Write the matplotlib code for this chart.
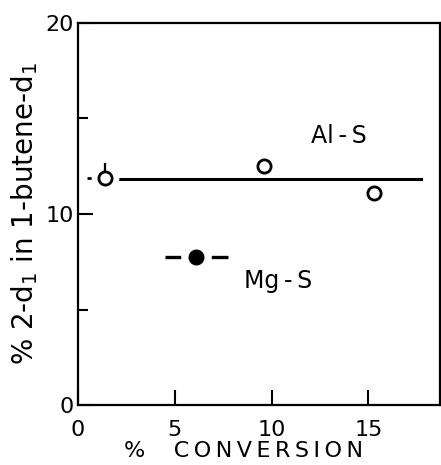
import matplotlib
matplotlib.use("Agg")
import matplotlib.pyplot as plt

# Data
al_x = [1.4, 9.6, 15.3]
al_y = [11.9, 12.5, 11.1]
al_fit_x = [2.1, 17.7]
al_fit_y = [11.85, 11.85]
al_err_x_lo = [0.95, 0, 0]
al_err_y_hi = [0.75, 0, 0]

mg_x = [6.07]
mg_y = [7.75]
mg_xerr = [[1.58], [1.67]]

xticks = [0, 5, 10, 15]
yticks = [0, 10, 20]
yminor = [5, 15]

plt.rcParams['font.family'] = ['DejaVu Sans']
fig = plt.figure(figsize=(4.41, 4.65), dpi=100)
ax = fig.add_axes([78/441, 60/465, 362/441, 382/465])

ax.set_xlim(0, 18.7)
ax.set_ylim(0, 20)

# fit line
ax.plot(al_fit_x, al_fit_y, color='black', lw=2.2, zorder=2)

# first Al-S point error marks
ax.errorbar(al_x[0], al_y[0], xerr=[[al_err_x_lo[0]], [0]],
            fmt='none', ecolor='black', elinewidth=2.0, capsize=0, zorder=1)
ax.plot(al_x[0], al_y[0], 'o', ms=19, mfc='white', mec='white', zorder=2.5)
ax.errorbar(al_x[0], al_y[0], yerr=[[0], [al_err_y_hi[0]]],
            fmt='none', ecolor='black', elinewidth=1.6, capsize=0, zorder=3)

# Al-S open circles
ax.plot(al_x, al_y, 'o', ms=9.5, mfc='white', mec='black', mew=2.0, zorder=4, linestyle='none')

# Mg-S
ax.errorbar(mg_x, mg_y, xerr=mg_xerr, fmt='none', ecolor='black', elinewidth=2.4, capsize=0, zorder=2)
ax.plot(mg_x, mg_y, 'o', ms=21, mfc='white', mec='white', zorder=3)
ax.plot(mg_x, mg_y, 'o', ms=10.5, mfc='black', mec='black', zorder=4)

ax.text(13.5, 14.1, 'Al\u2009-\u2009S', fontsize=17, ha='center', va='center')
ax.text(10.35, 6.5, 'Mg\u2009-\u2009S', fontsize=17, ha='center', va='center')

ax.set_xticks(xticks)
ax.set_yticks(yticks)
ax.set_yticks(yminor, minor=True)
ax.tick_params(axis='both', which='major', direction='in', length=11, width=1.5, labelsize=16)
ax.tick_params(axis='x', which='major', pad=11)
ax.tick_params(axis='y', which='major', pad=3)
ax.tick_params(axis='y', which='minor', direction='in', length=7, width=1.5)
for s in ax.spines.values():
    s.set_linewidth(1.6)

xl = '%    ' + '\u2009'.join('CONVERSION')
ax.set_xlabel(xl, fontsize=16)
ax.xaxis.set_label_coords((243 - 78) / 362, (465 - 451 - 60) / 382)
ax.xaxis.label.set_va('center')
ax.set_ylabel('% 2-d$_1$ in 1-butene-d$_1$', fontsize=20, labelpad=4)

fig.savefig('out.png', dpi=100)
